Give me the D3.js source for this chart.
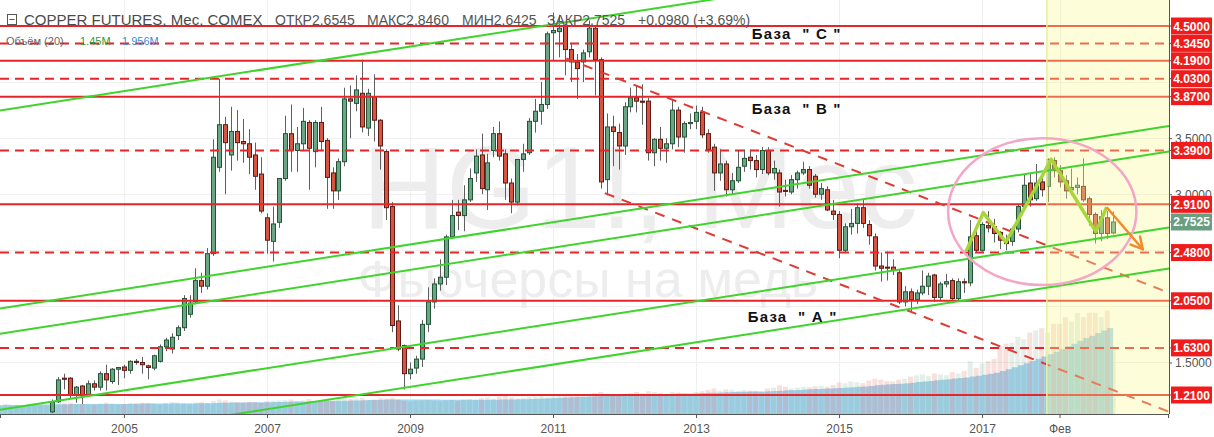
<!DOCTYPE html>
<html>
<head>
<meta charset="utf-8">
<script src="https://cdn.jsdelivr.net/npm/d3@7"></script>
<style>
  body { margin: 0; background: #fff; }
  svg { display: block; font-family: "Liberation Sans", Arial, sans-serif; }
</style>
</head>
<body>
<div id="chart"></div>
<script>
// monthly candles, Jan 2004 .. Nov 2018
var candleStart = "2004-01";
var opens = [
  1.06,1.15,1.36,1.36,1.21,1.29,1.21,1.31,1.28,1.40,1.33,1.44,
  1.46,1.43,1.51,1.50,1.47,1.45,1.51,1.64,1.62,1.74,1.81,1.93,
  2.04,2.23,2.18,2.47,3.24,3.62,3.35,3.56,3.47,3.45,3.35,3.18,
  2.79,2.58,2.75,3.14,3.54,3.39,3.45,3.64,3.38,3.64,3.48,3.19,
  3.03,3.29,3.85,3.81,3.90,3.59,3.87,3.66,3.38,2.89,1.87,1.65,
  1.40,1.45,1.53,1.84,2.04,2.20,2.26,2.62,2.84,2.81,2.95,3.19,
  3.35,3.04,3.39,3.54,3.36,3.10,2.93,3.31,3.37,3.65,3.74,3.80,
  4.44,4.45,4.50,4.29,4.18,4.18,4.27,4.48,4.20,3.13,3.60,3.55,
  3.43,3.78,3.86,3.83,3.83,3.37,3.49,3.41,3.45,3.75,3.51,3.63,
  3.65,3.73,3.54,3.42,3.19,3.27,3.04,3.12,3.25,3.33,3.30,3.22,
  3.39,3.19,3.19,3.035,3.02,3.13,3.19,3.22,3.16,3.00,3.04,2.85,
  2.82,2.50,2.71,2.74,2.88,2.73,2.62,2.36,2.35,2.35,2.30,2.04,
  2.13,2.06,2.12,2.18,2.28,2.08,2.20,2.23,2.07,2.22,2.21,2.63,
  2.50,2.72,2.71,2.66,2.59,2.58,2.69,2.89,3.10,2.96,3.11,3.07,
  3.30,3.21,3.12,3.04,3.06,3.07,2.96,2.82,2.65,2.79,2.6545
];
var highs = [
  1.17,1.37,1.40,1.37,1.29,1.30,1.34,1.34,1.42,1.48,1.45,1.46,
  1.48,1.52,1.53,1.55,1.48,1.57,1.66,1.72,1.76,1.83,2.10,2.10,
  2.34,2.30,2.52,3.49,4.03,3.69,3.78,3.75,3.67,3.58,3.46,3.33,
  2.83,2.89,3.14,3.70,3.80,3.60,3.77,3.66,3.66,3.78,3.50,3.24,
  3.32,3.95,3.97,4.06,4.20,3.94,4.07,3.67,3.40,2.93,2.01,1.66,
  1.50,1.56,1.88,2.17,2.25,2.42,2.64,2.95,2.95,3.08,3.23,3.40,
  3.54,3.36,3.60,3.65,3.40,3.14,3.31,3.45,3.68,3.85,4.00,4.45,
  4.62,4.60,4.52,4.35,4.25,4.29,4.55,4.50,4.22,3.72,3.70,3.63,
  3.82,3.95,3.97,3.98,3.86,3.50,3.60,3.50,3.85,3.78,3.65,3.72,
  3.79,3.78,3.58,3.45,3.40,3.30,3.19,3.39,3.40,3.40,3.35,3.42,
  3.42,3.30,3.22,3.13,3.17,3.21,3.29,3.25,3.18,3.10,3.07,2.95,
  2.85,2.74,2.87,2.92,2.95,2.77,2.65,2.48,2.49,2.42,2.33,2.18,
  2.16,2.15,2.32,2.30,2.29,2.22,2.29,2.25,2.25,2.25,2.77,2.73,
  2.75,2.85,2.78,2.67,2.64,2.71,2.91,3.18,3.18,3.27,3.19,3.32,
  3.33,3.26,3.17,3.23,3.15,3.32,2.98,2.84,2.86,2.85,2.846
];
var lows = [
  1.05,1.14,1.26,1.18,1.14,1.13,1.20,1.25,1.25,1.25,1.31,1.30,
  1.36,1.40,1.48,1.40,1.35,1.43,1.50,1.60,1.58,1.70,1.78,1.90,
  2.02,2.12,2.15,2.45,3.20,3.00,3.21,3.30,3.28,3.18,3.04,2.83,
  2.47,2.40,2.70,3.12,3.20,3.20,3.39,3.04,3.24,3.39,2.87,2.87,
  2.95,3.25,3.50,3.74,3.55,3.52,3.47,3.22,2.77,1.77,1.60,1.26,
  1.35,1.40,1.46,1.77,1.98,2.14,2.19,2.60,2.68,2.67,2.93,3.11,
  3.00,2.86,3.33,3.30,2.95,2.83,2.90,3.20,3.35,3.55,3.62,3.76,
  4.19,4.22,4.06,4.00,3.85,4.00,4.22,3.88,3.05,2.99,3.25,3.22,
  3.35,3.73,3.73,3.62,3.30,3.25,3.30,3.28,3.40,3.42,3.37,3.58,
  3.58,3.50,3.37,3.03,3.12,2.98,3.00,3.10,3.20,3.22,3.15,3.18,
  3.17,3.13,2.89,2.98,3.00,3.05,3.17,3.05,2.97,2.95,2.85,2.77,
  2.43,2.48,2.64,2.65,2.70,2.55,2.32,2.22,2.23,2.28,2.02,2.00,
  1.95,2.02,2.10,2.10,2.04,2.05,2.17,2.05,2.05,2.12,2.18,2.48,
  2.48,2.66,2.57,2.51,2.50,2.54,2.66,2.86,2.89,2.94,2.98,2.93,
  3.15,3.06,2.96,2.99,3.00,2.93,2.72,2.56,2.58,2.60,2.6425
];
var closes = [
  1.15,1.345,1.35,1.21,1.28,1.21,1.31,1.28,1.40,1.345,1.44,1.455,
  1.43,1.51,1.50,1.48,1.455,1.56,1.64,1.70,1.725,1.81,2.07,2.03,
  2.23,2.18,2.47,3.33,3.62,3.46,3.56,3.46,3.45,3.33,3.16,2.85,
  2.59,2.735,3.14,3.54,3.39,3.45,3.65,3.41,3.64,3.47,3.15,3.03,
  3.29,3.85,3.83,3.93,3.60,3.90,3.66,3.43,2.88,1.83,1.62,1.40,
  1.44,1.53,1.84,2.04,2.20,2.26,2.62,2.81,2.81,2.95,3.14,3.34,
  3.05,3.28,3.54,3.34,3.10,2.93,3.31,3.36,3.65,3.74,3.80,4.43,
  4.46,4.48,4.29,4.18,4.12,4.26,4.48,4.20,3.11,3.60,3.56,3.43,
  3.78,3.86,3.83,3.82,3.37,3.49,3.41,3.45,3.75,3.51,3.63,3.64,
  3.73,3.53,3.40,3.19,3.27,3.04,3.12,3.24,3.32,3.30,3.22,3.39,
  3.19,3.23,3.02,3.025,3.13,3.19,3.22,3.08,3.00,3.05,2.86,2.82,
  2.50,2.71,2.74,2.88,2.74,2.63,2.36,2.34,2.345,2.32,2.04,2.13,
  2.06,2.12,2.18,2.27,2.08,2.20,2.22,2.07,2.22,2.21,2.62,2.50,
  2.73,2.70,2.65,2.59,2.56,2.69,2.89,3.08,2.95,3.10,3.04,3.31,
  3.21,3.11,3.03,3.06,3.08,2.95,2.82,2.65,2.80,2.65,2.7525
];

// monthly volume in millions, Apr 2003 .. Nov 2018
var volumeStart = "2003-04";
var volumes = [
  0.20,0.22,0.19,0.21,0.20,0.23,0.24,0.22,0.21,
  0.24,0.27,0.25,0.26,0.22,0.23,0.22,0.21,0.24,0.26,0.24,0.22,
  0.23,0.25,0.24,0.26,0.25,0.24,0.22,0.25,0.27,0.26,0.25,0.24,
  0.26,0.27,0.25,0.30,0.33,0.31,0.28,0.27,0.26,0.28,0.27,0.25,
  0.29,0.30,0.31,0.32,0.33,0.30,0.31,0.34,0.30,0.31,0.32,0.30,
  0.33,0.36,0.34,0.35,0.36,0.32,0.33,0.36,0.35,0.37,0.33,0.30,
  0.28,0.30,0.31,0.32,0.30,0.29,0.31,0.32,0.30,0.33,0.34,0.32,
  0.36,0.38,0.35,0.40,0.42,0.38,0.36,0.37,0.39,0.40,0.42,0.38,
  0.40,0.42,0.44,0.43,0.45,0.42,0.44,0.48,0.50,0.46,0.43,0.41,
  0.45,0.48,0.50,0.47,0.52,0.50,0.48,0.46,0.50,0.49,0.47,0.44,
  0.50,0.52,0.55,0.58,0.53,0.56,0.55,0.52,0.54,0.53,0.52,0.50,
  0.58,0.60,0.65,0.62,0.58,0.60,0.62,0.61,0.63,0.64,0.62,0.66,
  0.72,0.70,0.74,0.72,0.70,0.76,0.80,0.78,0.75,0.74,0.78,0.80,
  0.85,0.88,0.90,0.86,0.92,0.90,0.88,0.95,0.92,0.98,1.20,1.05,
  1.15,1.20,1.25,1.55,1.60,1.62,1.75,1.70,1.85,1.90,1.95,1.85,
  2.05,2.05,2.20,2.10,2.30,2.20,2.30,2.30,2.20,2.35,1.45
];
var volumeMaLength = 20;

// horizontal levels
var solidLevels = [4.5, 4.19, 3.87, 2.91, 2.05, 1.21];
var dashedLevels = [4.345, 4.03, 3.39, 2.48, 1.63];
var lastPrice = 2.7525;

// rising channel lines (two anchors each, extended both ways)
var channelLines = [
  [["2004-01", 3.82], ["2018-01", 5.21]],
  [["2004-01", 2.055], ["2018-01", 3.447]],
  [["2004-01", 1.828], ["2018-01", 3.22]],
  [["2004-01", 1.151], ["2018-01", 2.543]],
  [["2004-01", 0.785], ["2018-01", 2.177]]
];
// falling dashed lines (start at first anchor, extended right)
var fallingLines = [
  [["2011-03-08", 4.21], ["2018-03", 2.48]],
  [["2011-09-22", 3.01], ["2018-03", 1.418]]
];
var zigzag = [
  ["2016-10-10", 2.488], ["2017-01-07", 2.836], ["2017-05-01", 2.572],
  ["2017-12-19", 3.312], ["2018-08-04", 2.667], ["2018-09-28", 2.884]
];
var arrow = [["2018-09-28", 2.884], ["2019-03-30", 2.51]];
var ellipseBox = [["2016-07-10", 3.50], ["2019-02-28", 2.19]];
var highlightStart = "2017-11-27";

var baseLabels = ['База  " С "', 'База  " В "', 'База  " А "'];
var baseAnchors = [["2013-10-12", 4.384], ["2013-10-12", 3.716], ["2013-09-21", 1.862]];

var xTickMonths = ["2005-01", "2007-01", "2009-01", "2011-01", "2013-01", "2015-01", "2017-01", "2018-02"];
var xTickLabels = ["2005", "2007", "2009", "2011", "2013", "2015", "2017", "Фев"];
var yGrid = [1.5, 2.0, 2.5, 3.0, 3.5, 4.0, 4.5];
var yTickLabels = [1.5, 3.0, 3.5];   // the others sit under the level boxes

function monthIndex(s) {
  var p = s.split("-").map(Number);
  return (p[0] - 2004) * 12 + (p[1] - 1) + (p[2] ? (p[2] - 1) / 30 : 0);
}

var W = 1169, H = 414;
var svg = d3.select("#chart").append("svg")
  .attr("width", 1214)
  .attr("height", 437);

svg.append("rect").attr("width", 1214).attr("height", 437).attr("fill", "#fff");

var x = d3.scaleLinear()
  .domain([monthIndex("2003-04-07"), monthIndex("2019-08-07")])
  .range([0, 1168]);
var y = d3.scaleLinear().domain([1.21, 4.5]).range([395, 26]);
var yVol = d3.scaleLinear().domain([0, 1]).range([H, H - 44]);

svg.append("defs").append("clipPath").attr("id", "plotClip")
  .append("rect").attr("width", W).attr("height", H);
var plot = svg.append("g").attr("clip-path", "url(#plotClip)");

// grid
plot.selectAll(".hgrid").data(yGrid).enter().append("line")
  .attr("x1", 0).attr("x2", W)
  .attr("y1", function(d) { return Math.round(y(d)) + 0.5; })
  .attr("y2", function(d) { return Math.round(y(d)) + 0.5; })
  .attr("stroke", "#efefef");
plot.selectAll(".vgrid").data(xTickMonths).enter().append("line")
  .attr("x1", function(d) { return Math.round(x(monthIndex(d))) + 0.5; })
  .attr("x2", function(d) { return Math.round(x(monthIndex(d))) + 0.5; })
  .attr("y1", 0).attr("y2", H)
  .attr("stroke", "#efefef");

// watermark
plot.append("text")
  .attr("x", 640).attr("y", 228)
  .attr("text-anchor", "middle")
  .attr("font-size", 116)
  .attr("fill", "#ededed")
  .text("HG1!, Мес");
plot.append("text")
  .attr("x", 588).attr("y", 297)
  .attr("text-anchor", "middle")
  .attr("font-size", 52)
  .attr("fill", "#ededed")
  .text("Фьючерсы на медь");

// volume + moving average
var c0 = monthIndex(candleStart), v0 = monthIndex(volumeStart);
var volData = volumes.map(function(v, i) {
  var from = Math.max(0, i - volumeMaLength + 1);
  var ma = d3.mean(volumes.slice(from, i + 1));
  var ci = i + v0 - c0;
  var up = ci >= 0 && ci < closes.length ? closes[ci] >= opens[ci] : true;
  return { m: v0 + i, v: v, ma: ma, up: up };
});

plot.append("path")
  .datum(volData)
  .attr("fill", "#a6d5f0")
  .attr("d", d3.area()
    .x(function(d) { return x(d.m); })
    .y0(H)
    .y1(function(d) { return yVol(d.ma); })
    .curve(d3.curveStepAfter));

plot.selectAll(".vol").data(volData).enter().append("rect")
  .attr("x", function(d) { return x(d.m) - 2.5; })
  .attr("width", 5)
  .attr("y", function(d) { return yVol(d.v); })
  .attr("height", function(d) { return H - yVol(d.v); })
  .attr("fill", function(d) { return d.up ? "#6ba583" : "#d75442"; })
  .attr("opacity", 0.18);

// candles
var candles = opens.map(function(o, i) {
  return { m: c0 + i, o: o, h: highs[i], l: lows[i], c: closes[i] };
});
var cg = plot.append("g");
cg.selectAll(".wick").data(candles).enter().append("line")
  .attr("x1", function(d) { return Math.round(x(d.m)) + 0.5; })
  .attr("x2", function(d) { return Math.round(x(d.m)) + 0.5; })
  .attr("y1", function(d) { return y(d.h); })
  .attr("y2", function(d) { return y(d.l); })
  .attr("stroke", "#5f5f5f");
cg.selectAll(".body").data(candles).enter().append("rect")
  .attr("x", function(d) { return Math.round(x(d.m)) - 1.5; })
  .attr("width", 4)
  .attr("y", function(d) { return y(Math.max(d.o, d.c)); })
  .attr("height", function(d) { return Math.max(1, Math.abs(y(d.o) - y(d.c))); })
  .attr("fill", function(d) { return d.c >= d.o ? "#6ba583" : "#d75442"; })
  .attr("stroke", function(d) { return d.c >= d.o ? "#225437" : "#5b1a13"; })
  .attr("stroke-width", 1);

// red levels
plot.selectAll(".solidLvl").data(solidLevels).enter().append("line")
  .attr("x1", 0).attr("x2", W)
  .attr("y1", function(d) { return y(d); }).attr("y2", function(d) { return y(d); })
  .attr("stroke", "#e4262a").attr("stroke-width", 2);
plot.selectAll(".dashLvl").data(dashedLevels).enter().append("line")
  .attr("x1", 0).attr("x2", W)
  .attr("y1", function(d) { return y(d); }).attr("y2", function(d) { return y(d); })
  .attr("stroke", "#e4262a").attr("stroke-width", 2)
  .attr("stroke-dasharray", "9,6");

function pt(a) { return [x(monthIndex(a[0])), y(a[1])]; }

// falling dashed lines
fallingLines.forEach(function(l) {
  var a = pt(l[0]), b = pt(l[1]);
  var k = (b[1] - a[1]) / (b[0] - a[0]);
  plot.append("line")
    .attr("x1", a[0]).attr("y1", a[1])
    .attr("x2", W).attr("y2", a[1] + k * (W - a[0]))
    .attr("stroke", "#dc3c34").attr("stroke-width", 2)
    .attr("stroke-dasharray", "10,8");
});

// highlighted area
var hx = x(monthIndex(highlightStart));
plot.append("rect")
  .attr("x", hx).attr("y", 0)
  .attr("width", W - hx).attr("height", H)
  .attr("fill", "rgb(250,250,150)").attr("opacity", 0.35);
plot.append("line")
  .attr("x1", hx).attr("x2", hx).attr("y1", 0).attr("y2", H)
  .attr("stroke", "#e6f0a0").attr("stroke-width", 1.5);

// channel lines
channelLines.forEach(function(l) {
  var a = pt(l[0]), b = pt(l[1]);
  var k = (b[1] - a[1]) / (b[0] - a[0]);
  plot.append("line")
    .attr("x1", 0).attr("y1", a[1] - k * a[0])
    .attr("x2", W).attr("y2", a[1] + k * (W - a[0]))
    .attr("stroke", "#3fd42c").attr("stroke-width", 2);
});

// ellipse
var e0 = pt(ellipseBox[0]), e1 = pt(ellipseBox[1]);
plot.append("ellipse")
  .attr("cx", (e0[0] + e1[0]) / 2).attr("cy", (e0[1] + e1[1]) / 2)
  .attr("rx", Math.abs(e1[0] - e0[0]) / 2).attr("ry", Math.abs(e1[1] - e0[1]) / 2)
  .attr("fill", "none").attr("stroke", "#f4a6c6").attr("stroke-width", 2.5);

// zigzag
plot.append("path")
  .datum(zigzag)
  .attr("fill", "none")
  .attr("stroke", "#a8d63a")
  .attr("stroke-width", 3.5)
  .attr("stroke-linejoin", "round")
  .attr("d", d3.line().x(function(d) { return pt(d)[0]; }).y(function(d) { return pt(d)[1]; }));

// arrow
var a0 = pt(arrow[0]), a1 = pt(arrow[1]);
var ang = Math.atan2(a1[1] - a0[1], a1[0] - a0[0]);
plot.append("line")
  .attr("x1", a0[0]).attr("y1", a0[1]).attr("x2", a1[0]).attr("y2", a1[1])
  .attr("stroke", "#f58a2a").attr("stroke-width", 2.5);
[-0.5, 0.5].forEach(function(da) {
  plot.append("line")
    .attr("x1", a1[0]).attr("y1", a1[1])
    .attr("x2", a1[0] - 13 * Math.cos(ang + da))
    .attr("y2", a1[1] - 13 * Math.sin(ang + da))
    .attr("stroke", "#f58a2a").attr("stroke-width", 2.5)
    .attr("stroke-linecap", "round");
});

// base labels
plot.selectAll(".base").data(baseLabels).enter().append("text")
  .attr("x", function(d, i) { return pt(baseAnchors[i])[0]; })
  .attr("y", function(d, i) { return pt(baseAnchors[i])[1]; })
  .attr("font-size", 15)
  .attr("font-weight", "bold")
  .attr("letter-spacing", 1.2)
  .attr("fill", "#111")
  .style("white-space", "pre")
  .text(function(d) { return d; });

// bottom axis
var xAxis = svg.append("g")
  .attr("transform", "translate(0," + H + ")")
  .call(d3.axisBottom(x)
    .tickValues(xTickMonths.map(monthIndex))
    .tickFormat(function(d, i) { return xTickLabels[i]; })
    .tickSize(4).tickPadding(6));
xAxis.select(".domain").attr("stroke", "#555");
xAxis.selectAll(".tick line").attr("stroke", "#555");
xAxis.selectAll("text").attr("font-size", 12).attr("fill", "#555")
  .attr("font-family", "Liberation Sans, Arial, sans-serif");
svg.append("line").attr("x1", 0).attr("x2", W).attr("y1", H + 0.5).attr("y2", H + 0.5).attr("stroke", "#555");

// right axis
var yAxis = svg.append("g")
  .attr("transform", "translate(" + W + ",0)")
  .call(d3.axisRight(y).tickValues(yTickLabels).tickFormat(d3.format(".4f")).tickSize(3).tickPadding(3));
yAxis.select(".domain").remove();
yAxis.selectAll(".tick line").attr("stroke", "#555");
yAxis.selectAll("text").attr("font-size", 12).attr("fill", "#555")
  .attr("font-family", "Liberation Sans, Arial, sans-serif");
svg.append("line").attr("x1", W + 0.5).attr("x2", W + 0.5).attr("y1", 0).attr("y2", H).attr("stroke", "#555");

// price boxes
var boxes = solidLevels.concat(dashedLevels).map(function(p) { return { p: p, fill: "#f01c1c" }; });
boxes.push({ p: lastPrice, fill: "#6b9e80" });
var bg = svg.selectAll(".pbox").data(boxes).enter().append("g")
  .attr("transform", function(d) { return "translate(" + W + "," + y(d.p) + ")"; });
bg.append("line").attr("x1", 0).attr("x2", 3).attr("stroke", "#555");
bg.append("rect").attr("x", 2).attr("y", -8.5).attr("width", 41).attr("height", 17)
  .attr("fill", function(d) { return d.fill; });
bg.append("text").attr("x", 22.5).attr("y", 4.5)
  .attr("text-anchor", "middle").attr("font-size", 12).attr("font-weight", "bold")
  .attr("fill", "#fff")
  .text(function(d) { return d3.format(".4f")(d.p); });

// header
var hd = svg.append("g");
hd.append("rect").attr("x", 7.5).attr("y", 14.5).attr("width", 9).attr("height", 10)
  .attr("fill", "none").attr("stroke", "#555");
hd.append("line").attr("x1", 9.5).attr("x2", 14.5).attr("y1", 19.5).attr("y2", 19.5).attr("stroke", "#555");
hd.append("text").attr("x", 24).attr("y", 25).attr("font-size", 15).attr("fill", "#4a4a4a")
  .text("COPPER FUTURES, Мес, COMEX");
var ohlc = [["ОТКР2.6545", 275], ["МАКС2.8460", 367], ["МИН2.6425", 462], ["ЗАКР2.7525", 547], ["+0.0980 (+3.69%)", 638]];
ohlc.forEach(function(t) {
  hd.append("text").attr("x", t[1]).attr("y", 25).attr("font-size", 14).attr("fill", "#555").text(t[0]);
});
hd.append("text").attr("x", 6).attr("y", 45).attr("font-size", 11).attr("fill", "#666").text("Объём (20)");
hd.append("text").attr("x", 80).attr("y", 45).attr("font-size", 11).attr("fill", "#2f9a3a").text("1.45M");
hd.append("text").attr("x", 122).attr("y", 45).attr("font-size", 11).attr("fill", "#3a8ed8").text("1.956M");
</script>
</body>
</html>
